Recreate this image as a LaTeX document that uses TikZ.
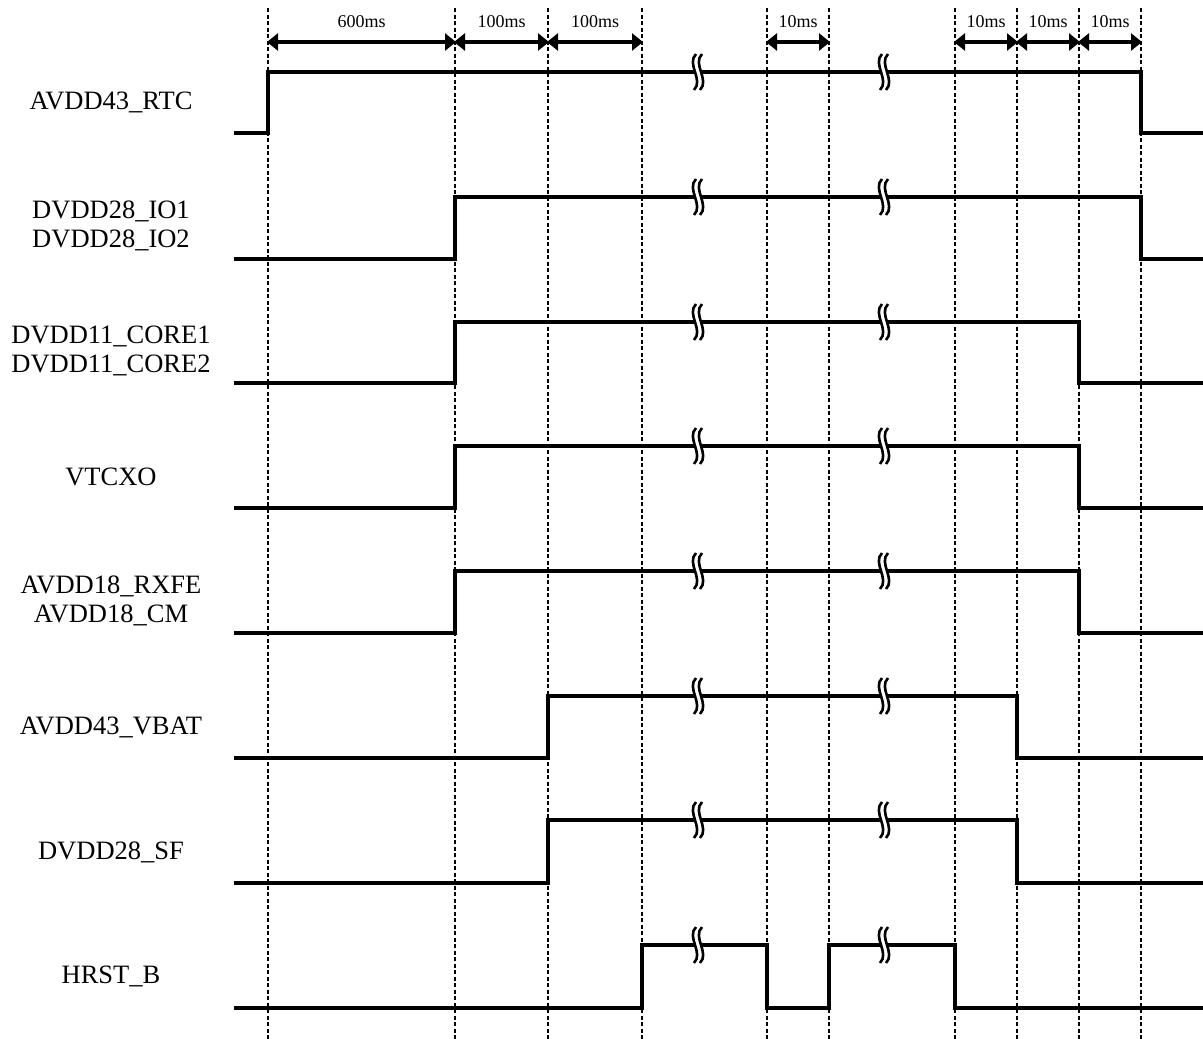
\documentclass[tikz,border=0pt]{standalone}
\usepackage{fontspec}
\setmainfont{Liberation Serif}
\usetikzlibrary{arrows.meta}
\begin{document}
\begin{tikzpicture}[x=1pt,y=-1pt,
  sig/.style={line width=3.6pt,line cap=rect,line join=miter},
  guide/.style={line width=2.2pt,dash pattern=on 4pt off 2.5pt},
  dim/.style={line width=3.4pt,{Triangle[length=11pt,width=17pt]}-{Triangle[length=11pt,width=17pt]}, shorten <=-1pt, shorten >=-1pt},
  lbl/.style={font=\fontsize{26.5}{29}\selectfont,align=center,inner sep=0pt},
  tlbl/.style={font=\fontsize{18}{19}\selectfont,inner sep=0pt},
  brkw/.style={white,line width=6pt},
  brkb/.style={black,line width=2.6pt}]
\useasboundingbox (0,0) rectangle (1203,1039);
% guide lines
\foreach \x [count=\i] in {268,455,548,642,767,829,955,1017,1079,1141}{
  \coordinate (g\i) at (\x,42);
  \draw[guide] (\x,8) -- (\x,1039);
}
% dimension arrows
\draw[dim] (g1) -- (g2);
\draw[dim] (g2) -- (g3);
\draw[dim] (g3) -- (g4);
\draw[dim] (g5) -- (g6);
\draw[dim] (g7) -- (g8);
\draw[dim] (g8) -- (g9);
\draw[dim] (g9) -- (g10);
\node[tlbl] (t1) at (361.5,22) {600ms};
\node[tlbl] (t2) at (501.5,22) {100ms};
\node[tlbl] (t3) at (595,22) {100ms};
\node[tlbl] (t4) at (798,22) {10ms};
\node[tlbl] (t5) at (986,22) {10ms};
\node[tlbl] (t6) at (1048,22) {10ms};
\node[tlbl] (t7) at (1110,22) {10ms};
% labels
\node[lbl] (l1) at (111,102) {AVDD43\_RTC};
\node[lbl] (l2) at (111,226) {DVDD28\_IO1\\DVDD28\_IO2};
\node[lbl] (l3) at (111,351) {DVDD11\_CORE1\\DVDD11\_CORE2};
\node[lbl] (l4) at (111,477) {VTCXO};
\node[lbl] (l5) at (111,601) {AVDD18\_RXFE\\AVDD18\_CM};
\node[lbl] (l6) at (111,727) {AVDD43\_VBAT};
\node[lbl] (l7) at (111,852) {DVDD28\_SF};
\node[lbl] (l8) at (111,976) {HRST\_B};
% signals
\draw[sig] (236,133) -- (268,133) -- (268,72) -- (1141,72) -- (1141,133) -- (1203,133);
\draw[sig] (236,259) -- (455,259) -- (455,197) -- (1141,197) -- (1141,259) -- (1203,259);
\draw[sig] (236,383) -- (455,383) -- (455,322) -- (1079,322) -- (1079,383) -- (1203,383);
\draw[sig] (236,508) -- (455,508) -- (455,446) -- (1079,446) -- (1079,508) -- (1203,508);
\draw[sig] (236,633) -- (455,633) -- (455,571) -- (1079,571) -- (1079,633) -- (1203,633);
\draw[sig] (236,758) -- (548,758) -- (548,696) -- (1017,696) -- (1017,758) -- (1203,758);
\draw[sig] (236,883) -- (548,883) -- (548,820) -- (1017,820) -- (1017,883) -- (1203,883);
\draw[sig] (236,1008) -- (642,1008) -- (642,945) -- (767,945) -- (767,1008) -- (829,1008) -- (829,945) -- (955,945) -- (955,1008) -- (1203,1008);
% break marks
\foreach \y in {72,197,322,446,571,696,820,945}{
  \foreach \x in {698,884}{
    \draw[brkw] (\x+1,\y-18) .. controls (\x-9,\y-8) and (\x+9,\y+8) .. (\x-1,\y+18);
    \draw[brkb] (\x-2,\y-18) .. controls (\x-12,\y-8) and (\x+6,\y+8) .. (\x-4,\y+18);
    \draw[brkb] (\x+4,\y-18) .. controls (\x-6,\y-8) and (\x+12,\y+8) .. (\x+2,\y+18);
  }
}
\end{tikzpicture}
\end{document}
